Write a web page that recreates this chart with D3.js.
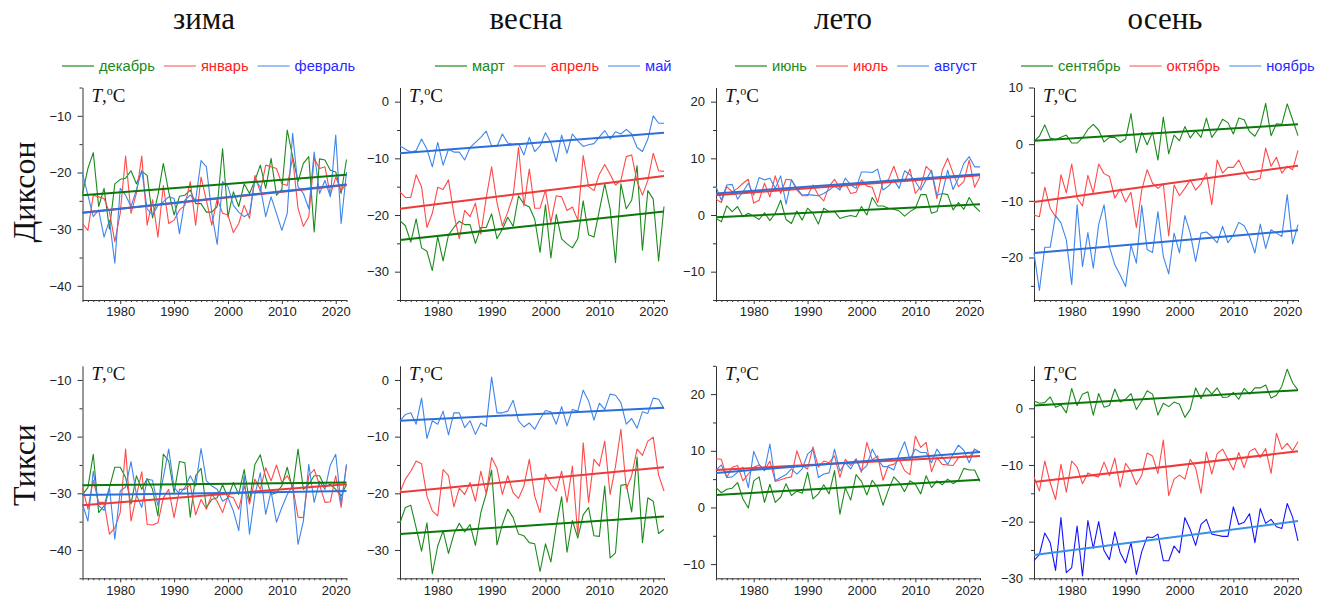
<!DOCTYPE html>
<html>
<head>
<meta charset="utf-8">
<script src="https://cdn.jsdelivr.net/npm/d3@7"></script>
<style>
  body { margin: 0; background: #fff; }
  svg { display: block; }
</style>
</head>
<body>
<svg id="chart" width="1327" height="601"></svg>
<script>
// ---- data -------------------------------------------------------------
const years = d3.range(1973, 2023);
const seasons = ["зима", "весна", "лето", "осень"];
const stations = ["Диксон", "Тикси"];
const monthNames = [
  ["декабрь", "январь", "февраль"],
  ["март", "апрель", "май"],
  ["июнь", "июль", "август"],
  ["сентябрь", "октябрь", "ноябрь"]
];
const xTickYears = [1980, 1990, 2000, 2010, 2020];

// Диксон, monthly mean temperature, °C
const diksonDec = [-23.7,-19.3,-16.5,-26,-22.8,-30,-22,-21.2,-21,-19.7,-22,-19.8,-20.5,-28,-24,-18.4,-23.4,-27.5,-24.2,-24,-23.1,-25.5,-25.5,-27,-27,-26,-15.8,-27.8,-23.4,-26,-22,-23.7,-21.4,-18.7,-22.8,-17.5,-24,-23,-12.5,-17.2,-21.6,-18.4,-17.2,-30.5,-17.6,-17.8,-19.6,-19.9,-23.7,-17.7];
const diksonJan = [-29,-30.2,-24,-24.3,-24.6,-27,-32.2,-27.2,-17.1,-27.2,-23.7,-17.1,-29.3,-24.8,-31.4,-22.3,-29,-28.4,-26.6,-25.8,-21.6,-29.3,-20.8,-24.9,-29.3,-24.6,-27.2,-27.5,-30.6,-29,-25.8,-28.1,-20.5,-23.4,-18.7,-19,-19.3,-22,-22.3,-17.4,-26.3,-29.5,-27.8,-17.5,-19.3,-19,-24,-20.8,-23.2,-22];
const diksonFeb = [-20.2,-24,-27.8,-26.6,-31.4,-28.4,-36,-22.8,-24,-26,-23.1,-19.6,-26.4,-27.5,-25.8,-25.2,-24.3,-24.6,-30.8,-24.9,-24,-24.9,-17.9,-19,-27.2,-32.7,-21.6,-22.5,-25.8,-27,-27.8,-27.2,-21.4,-22.5,-27.8,-24.3,-27.2,-30.2,-27.2,-13.1,-22.5,-23.7,-26.4,-16.4,-23.7,-21.4,-24.3,-13.4,-29,-19.9];
const diksonMar = [-21,-21.9,-24.8,-20.7,-25.8,-26.4,-29.8,-23.8,-28.1,-23.5,-22.2,-21.1,-21.7,-21.7,-25,-22.2,-22.2,-19.8,-24.2,-22.5,-20.4,-22,-16.6,-18.1,-18.6,-20.7,-26.6,-18.2,-27.6,-19.9,-24.2,-25.1,-25.8,-24.2,-17.5,-23.5,-23.9,-19.2,-14.5,-18.9,-28.4,-14.5,-18.9,-17.4,-11.3,-26.2,-15.7,-17.2,-28.1,-18.5];
const diksonApr = [-15.9,-16.9,-16.9,-12.9,-15,-22.2,-19.7,-15.1,-15.5,-13.8,-19.8,-24.2,-19.2,-20.3,-17.9,-23.4,-17,-11.5,-17.8,-21.9,-19.5,-16.6,-8.1,-18.4,-11.9,-18.8,-18.8,-15.6,-21.3,-16.6,-16.8,-19.2,-18.6,-20.9,-9.5,-15,-15.7,-12.8,-11.1,-12.8,-14.7,-13.9,-9.7,-9.4,-14.1,-16.5,-13.9,-9.1,-12.2,-12.3];
const diksonMay = [-7.8,-8.4,-8.9,-8.6,-6.6,-8.4,-11.5,-7.2,-11.2,-8.4,-8.9,-8.9,-10.3,-8.1,-7.2,-6.3,-5.2,-7.8,-7.9,-5.7,-7.3,-7.5,-7.4,-9.4,-6.3,-8.8,-7.8,-5.5,-7.2,-10.6,-5.9,-9.1,-5.7,-6.9,-7.9,-7.6,-7.4,-6.2,-5.1,-6.6,-5.3,-5.7,-4.9,-5.7,-8.1,-8.8,-6.6,-2.5,-3.8,-3.8];
const diksonJun = [-0.6,-1.2,1.6,0.6,1.5,-0.3,0.3,-0.2,-0.8,0.4,-1,0.3,2.6,-0.8,-1.5,0.7,-0.9,1.2,0.3,-1.6,1.2,0.6,0.6,-0.6,-0.3,-0.1,-0.3,1.5,0,3.1,1.6,1.6,1.2,1,0.7,-0.2,0.6,1.2,3.6,3.6,0.3,0.6,3.8,3.6,0.9,2.2,1,3.1,1.5,0.6];
const diksonJul = [2.8,2.2,5,4.1,4.7,5.6,6.3,2.1,2.6,5.6,3.2,6.9,3.8,6.3,6.2,4.4,3.4,3.4,5.3,3.5,2.5,5.1,6.3,4.7,5.6,3.8,4,6.2,5.1,4.9,2.2,5.9,6.2,8.6,5.9,5.9,8.1,3.8,5,8.6,7.6,2.9,7.9,10,7.4,5,5.9,9.7,4.9,6.8];
const diksonAug = [5,2.6,5.3,5.4,2.8,4.1,5.6,3.5,6.6,6.2,6.5,4.7,6.9,1.9,6.2,4.7,3.5,3.6,3.5,3.4,3.8,4.4,5.1,4.4,6.5,5.3,4.7,7.6,7.6,7.5,8.1,4.4,5.1,6.2,4.7,7.8,7.1,5.9,4.4,6.2,7.9,3.5,3.8,7.9,4.5,6.5,9.1,10.3,8.5,8.5];
const diksonSep = [0.5,1.4,3.4,1.1,0.8,1.2,1.6,0.2,0.2,1.1,2.6,3.5,2.5,0.4,1.2,1.2,0.3,0.9,5.4,-1.5,2.1,-0.1,2.1,-2.8,4.8,-1.7,1.6,0.6,3.1,1.1,2.4,1.2,4.6,1.2,2.5,4.4,3.8,1.8,4.6,4.3,2.2,1.4,3.1,7.2,1.5,3.6,3.5,7.1,4.3,1.5];
const diksonOct = [-12.5,-12.8,-7.6,-11.3,-12.8,-5.4,-8.6,-3.5,-9.5,-10.9,-5.5,-8.6,-3.5,-5.2,-5.7,-9.5,-7.9,-10.2,-8.5,-14.7,-8.1,-4.5,-6.9,-7.8,-7,-16.2,-7.2,-9.1,-7.8,-6.3,-8.1,-7,-5.1,-10.7,-2.8,-5.1,-4.1,-4.1,-2.8,-4.8,-6.2,-6.3,-6,-0.7,-3.9,-2.3,-5.1,-3.9,-4.5,-1.1];
const diksonNov = [-19.2,-25.8,-18.2,-18.2,-12.6,-13.9,-16.9,-24.8,-10.7,-21.6,-15.6,-21.9,-14.2,-10.7,-18.1,-21.3,-23.1,-25.1,-17.8,-21,-10.8,-18.6,-19.1,-11.9,-19.8,-22.9,-15.7,-19.2,-12.6,-15.7,-20.7,-15.7,-15.5,-16.3,-17.4,-14.5,-17.4,-16,-13.8,-14.4,-16.3,-19.2,-14.1,-18.4,-15.1,-15.7,-16.3,-8.9,-17.6,-14.2];

// Тикси, monthly mean temperature, °C
const tiksiDec = [-30.2,-29,-23.1,-33.4,-32.2,-29,-25.4,-25.4,-27.2,-31.9,-26.9,-29.3,-27.4,-29.3,-34,-23.1,-24.3,-29.9,-24.4,-24.6,-34.2,-26.9,-25.6,-32.5,-31.1,-30.8,-28.5,-30.8,-28.1,-30.2,-25.8,-31.4,-24.9,-23.2,-27.2,-30.2,-29.9,-28.7,-25.4,-29.3,-22.2,-29.3,-28.4,-26.9,-26.9,-28.9,-28.4,-29.3,-30.5,-28.4];
const tiksiJan = [-29,-32.8,-27.7,-31.6,-31.6,-37.2,-36.1,-33.4,-22.2,-34.9,-30.5,-26.2,-35.5,-35.6,-35.2,-30.8,-29.3,-34.3,-29.3,-29.3,-28.5,-33.8,-31.1,-32.8,-30.2,-31.4,-33.4,-30.5,-30.8,-32.8,-28.7,-31.9,-27.5,-29.3,-25.5,-27.8,-25,-28.1,-26.9,-28.7,-34.2,-34.3,-26.9,-25.8,-28.5,-31.6,-31.5,-26.9,-32.5,-25];
const tiksiFeb = [-31.9,-34.9,-26.1,-32.2,-33,-29,-38.1,-29.6,-28.9,-24.4,-30.2,-32.5,-27.5,-27.7,-32.2,-27.2,-22.2,-29,-30.1,-29,-26.9,-28.7,-22.1,-27.8,-28.7,-29.3,-31.4,-30.8,-33.1,-36.6,-26.8,-37.2,-30.2,-26.4,-33.7,-29.6,-35.1,-32.5,-30.2,-28.7,-39,-34.9,-24.9,-31.6,-27.9,-29.3,-25,-23.1,-31.9,-24.9];
const tiksiMar = [-25.2,-22.5,-22.1,-26.1,-30.2,-25.2,-34.2,-29.3,-26.6,-30.6,-27.2,-25.3,-26.8,-25.5,-29.2,-23.4,-20.1,-15.9,-29.1,-25.5,-22.8,-24.3,-27.2,-27.5,-28.7,-28.9,-33.8,-28.9,-32.1,-25.8,-20.6,-30.4,-24.8,-27.9,-23.8,-22.5,-27.5,-27.6,-18.7,-31.4,-30.5,-18.6,-18.4,-23.3,-13.6,-28.7,-20.8,-21.4,-27.1,-26.4];
const tiksiApr = [-19.8,-17.5,-16.1,-14.3,-14.8,-20.5,-23.1,-24,-15.8,-16.9,-22.4,-19.1,-20.2,-18.1,-21.4,-16.1,-20.1,-13.7,-15.6,-20.2,-16.9,-19.9,-20.9,-18.7,-14,-20.5,-23.4,-16.6,-18.4,-19.6,-16.1,-21.6,-15.2,-27.5,-11.1,-21.6,-14,-15.2,-10.8,-20.2,-15.2,-8.7,-19.2,-16.9,-12.2,-13.3,-10.8,-10.1,-16.8,-19.6];
const tiksiMay = [-7.2,-6.1,-5.8,-7.8,-3.2,-10.3,-7.2,-7.8,-5.5,-9.7,-5.8,-5.8,-8.4,-7.2,-9.6,-7.6,-8.2,0.5,-5.8,-5.8,-5.5,-3.6,-7.2,-8.3,-7.6,-8.7,-6.9,-5.4,-5.6,-7.8,-4.7,-8.1,-5.2,-5.5,-1.8,-3.7,-7.1,-4.1,-5.2,-2.5,-2.7,-4,-7.8,-6.8,-8.5,-5.6,-5.9,-3.2,-3.4,-5.1];
const tiksiJun = [3.5,2.6,3.2,3.4,4.4,1.5,-0.1,4.7,5.4,0.9,4.1,0.9,1.8,4.2,2.1,2.9,2.5,6.2,1.5,2.4,4,2.4,6.5,-1.2,3.5,1.3,5.8,4.6,2.2,4.8,3.5,0.4,3.1,5.4,4.4,2.8,4.7,4.1,2.4,5.6,3.5,4.7,4,5,4.2,4.8,6.9,6.6,6.6,4.6];
const tiksiJul = [8.6,8.5,5.3,7.1,7.4,4.7,5.9,7.1,7.5,6.5,8.2,4.6,4.9,5.2,5.4,10,7.4,6.8,10.7,7.1,8.2,7.9,9.1,5.3,8.5,7.4,8.6,6.2,11.5,8.4,9.1,4.8,7.4,7.6,8.5,6.5,5.8,12.6,10.6,11.5,6.3,8.8,7.6,7.5,7.4,8.8,9.1,8.8,10.3,9.7];
const tiksiAug = [6.6,7.5,5.3,5.4,6.2,7.1,3.5,9.9,7.6,6.5,11.2,4.7,5.3,5.8,6.8,5.9,6.8,9.4,10.3,5.3,5.9,6.1,10.3,6.4,7.9,6.8,8.5,6.5,7.4,10.3,8.5,7.2,7.2,6.6,9.4,11.6,8.5,10.3,9.7,9.7,7.9,10.3,8.9,7.6,9.4,11,10.1,7.9,10.3,9.7];
const tiksiSep = [1.3,0.9,1,2,0.2,0.6,-0.8,3.5,0.5,2.5,2.9,-1.2,2.6,0.2,0.5,3.4,1.1,1.6,2.6,-0.2,1.3,3.1,2.5,-1.2,0.9,0.3,1.1,0.7,-1.6,-0.2,3.6,1.7,3.6,2.5,3.6,1.9,2,2.8,1.6,3.5,2.5,3.6,3.6,4.1,1.8,2.3,3.9,6.9,4.5,3.2];
const tiksiOct = [-12.1,-14.6,-9.3,-13.1,-16.1,-9.9,-14.8,-9.3,-10.4,-13.3,-11.4,-11.9,-12.1,-9.5,-11.9,-8.8,-13.9,-9.7,-11.1,-13.5,-11.8,-7.9,-8.4,-11.5,-5.6,-15.4,-12.5,-11.8,-12.5,-9,-10.5,-15,-7.7,-11.6,-8,-7.2,-9,-10.9,-7.8,-10.5,-7.6,-7.1,-8.7,-7.1,-11.5,-4.4,-7.2,-6.2,-7.5,-5.9];
const tiksiNov = [-26.9,-25.8,-22,-23.7,-28.6,-19.3,-29,-28.1,-20.8,-29.6,-19.8,-24.7,-20,-25.1,-26.7,-21.8,-25.5,-27.3,-23.7,-29.3,-25.3,-22.7,-22.8,-22.2,-26.9,-26.9,-24.3,-25.5,-19.3,-21.4,-24.2,-20.5,-19.6,-22.2,-22.4,-22.6,-22.6,-17.4,-20.5,-20.1,-18.6,-23.7,-17.7,-20.3,-19.6,-20.9,-21.2,-16.8,-19.2,-23.4];

// linear trends: [value in 1973, value in 2022] for each month
const diksonWinterTrend = [[-24, -20.4], [-27.1, -22.2], [-27.1, -22.1]];
const diksonSpringTrend = [[-24.4, -19.4], [-18.9, -13.1], [-9.1, -5.5]];
const diksonSummerTrend = [[-0.4, 1.9], [3.5, 7], [3.8, 7.2]];
const diksonAutumnTrend = [[0.6, 3.5], [-10.2, -3.8], [-19.2, -15.2]];
const tiksiWinterTrend = [[-28.6, -28.1], [-32.1, -28.4], [-30.3, -29.6]];
const tiksiSpringTrend = [[-27.2, -24.1], [-19.8, -15.4], [-7.2, -4.9]];
const tiksiSummerTrend = [[2.2, 4.9], [6.6, 9.1], [6.1, 9.8]];
const tiksiAutumnTrend = [[0.5, 3.2], [-13, -7.6], [-25.9, -19.9]];

// value ranges of the y axes, row by row
const yDomains = [
  [[-42.5, -5], [-35, 2.5], [-15, 22.5], [-27.5, 10]],
  [[-45, -7.5], [-35, 2.5], [-12.5, 25], [-30, 7.5]]
];

// ---- layout -----------------------------------------------------------
const colX = [82.5, 400, 716, 1034];
const plotW = 264;
const rowTop = [87.5, 365.8];
const plotH = 212.5;
const titleX = [204, 526, 843, 1165];
const legendX = [62, 435, 735, 1021];
const stationY = [192, 465];

const lineColors = ["#1c8a1c", "#ff4a4a", "#3f86ea"];
const trendColors = ["#0c780c", "#ee3a3a", "#2d6fd8"];
const legendTextColors = ["#1a8a1a", "#ff2222", "#2a2aff"];

const panels = [
  { row: 0, col: 0, series: [diksonDec, diksonJan, diksonFeb], trend: diksonWinterTrend },
  { row: 0, col: 1, series: [diksonMar, diksonApr, diksonMay], trend: diksonSpringTrend },
  { row: 0, col: 2, series: [diksonJun, diksonJul, diksonAug], trend: diksonSummerTrend },
  { row: 0, col: 3, series: [diksonSep, diksonOct, diksonNov], trend: diksonAutumnTrend },
  { row: 1, col: 0, series: [tiksiDec, tiksiJan, tiksiFeb], trend: tiksiWinterTrend },
  { row: 1, col: 1, series: [tiksiMar, tiksiApr, tiksiMay], trend: tiksiSpringTrend },
  { row: 1, col: 2, series: [tiksiJun, tiksiJul, tiksiAug], trend: tiksiSummerTrend },
  { row: 1, col: 3, series: [tiksiSep, tiksiOct, tiksiNov], trend: tiksiAutumnTrend,
    lineOverride: { 2: "#1414ff" }, trendOverride: { 2: "#3a8fe6" } }
];

const svg = d3.select("#chart");
const sansFont = "'Liberation Sans', Arial, sans-serif";
const serifFont = "'Liberation Serif', 'Times New Roman', serif";

// season titles
svg.selectAll("text.season")
  .data(seasons)
  .join("text")
  .attr("class", "season")
  .attr("x", (d, i) => titleX[i])
  .attr("y", 29)
  .attr("text-anchor", "middle")
  .style("font-family", serifFont)
  .style("font-size", "31px")
  .style("fill", "#111")
  .text(d => d);

// legends
monthNames.forEach((names, c) => {
  const g = svg.append("g").attr("transform", `translate(${legendX[c]},66)`);
  let x = 0;
  names.forEach((name, k) => {
    g.append("line")
      .attr("x1", x).attr("x2", x + 32)
      .attr("y1", 0).attr("y2", 0)
      .attr("stroke", lineColors[k])
      .attr("stroke-width", 1.2);
    x += 37;
    const t = g.append("text")
      .attr("x", x).attr("y", 5)
      .style("font-family", sansFont)
      .style("font-size", "14.7px")
      .style("fill", legendTextColors[k])
      .text(name);
    x += t.node().getComputedTextLength() + 9;
  });
});

// station names on the left
svg.selectAll("text.station")
  .data(stations)
  .join("text")
  .attr("class", "station")
  .attr("transform", (d, i) => `translate(35,${stationY[i]}) rotate(-90)`)
  .attr("text-anchor", "middle")
  .style("font-family", serifFont)
  .style("font-size", "32px")
  .style("fill", "#111")
  .text(d => d);

// panels
panels.forEach(p => {
  const x0 = colX[p.col];
  const y0 = rowTop[p.row];
  const dom = yDomains[p.row][p.col];

  const x = d3.scaleLinear().domain([1973, 2022]).range([x0, x0 + plotW]);
  const y = d3.scaleLinear().domain(dom).range([y0 + plotH, y0]);

  const g = svg.append("g");

  // y axis: major ticks every 10 °C, minor every 5 °C
  const major = d3.range(Math.ceil(dom[0] / 10) * 10, dom[1] + 0.001, 10);
  const minor = d3.range(Math.ceil(dom[0] / 5) * 5, dom[1] + 0.001, 5).filter(v => v % 10 !== 0);

  g.append("g")
    .attr("transform", `translate(${x0},0)`)
    .call(d3.axisLeft(y).tickValues(major).tickSize(5).tickSizeOuter(0).tickPadding(6).tickFormat(d3.format("d")));
  g.append("g")
    .attr("transform", `translate(${x0},0)`)
    .call(d3.axisLeft(y).tickValues(minor).tickSize(3).tickSizeOuter(0).tickFormat(""))
    .select(".domain").remove();

  // x axis: a tick every year, labels every decade
  g.append("g")
    .attr("transform", `translate(0,${y0 + plotH})`)
    .call(d3.axisBottom(x).tickValues(xTickYears).tickSize(4).tickSizeOuter(0).tickPadding(3).tickFormat(d3.format("d")));
  g.append("g")
    .attr("transform", `translate(0,${y0 + plotH})`)
    .call(d3.axisBottom(x).tickValues(years.filter(v => v % 10 !== 0)).tickSize(2).tickSizeOuter(0).tickFormat(""))
    .select(".domain").remove();

  g.selectAll(".domain, .tick line").attr("stroke", "#333").attr("stroke-width", 1);
  g.selectAll(".tick text")
    .style("font-family", sansFont)
    .style("font-size", "13px")
    .style("fill", "#222");

  // axis title
  const lbl = g.append("text")
    .attr("x", x0 + 9)
    .attr("y", y0 + 14)
    .style("font-family", serifFont)
    .style("font-size", "19px")
    .style("fill", "#111");
  lbl.append("tspan").style("font-style", "italic").text("T");
  lbl.append("tspan").text(",");
  lbl.append("tspan").attr("dy", -7).style("font-size", "12px").text("o");
  lbl.append("tspan").attr("dy", 7).text("C");

  // monthly series
  const line = d3.line()
    .x((d, i) => x(years[i]))
    .y(d => y(d));

  p.series.forEach((vals, k) => {
    const col = (p.lineOverride && p.lineOverride[k]) || lineColors[k];
    g.append("path")
      .datum(vals)
      .attr("d", line)
      .attr("fill", "none")
      .attr("stroke", col)
      .attr("stroke-width", 1.1)
      .attr("stroke-linejoin", "round");
  });

  // trend lines
  p.trend.forEach((tr, k) => {
    const col = (p.trendOverride && p.trendOverride[k]) || trendColors[k];
    g.append("line")
      .attr("x1", x(1973)).attr("y1", y(tr[0]))
      .attr("x2", x(2022)).attr("y2", y(tr[1]))
      .attr("stroke", col)
      .attr("stroke-width", 2);
  });
});
</script>
</body>
</html>
